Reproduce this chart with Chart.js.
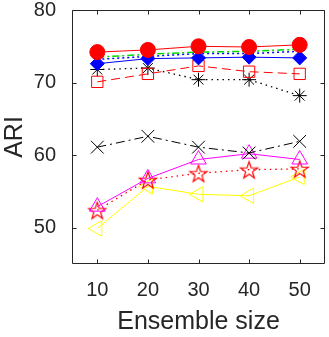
<!DOCTYPE html>
<html>
<head>
<meta charset="utf-8">
<script src="https://cdn.jsdelivr.net/npm/chart.js@4"></script>
<style>
  html, body { margin: 0; padding: 0; background: #fff; }
</style>
</head>
<body>
<canvas id="chart" width="329" height="337"></canvas>
<script>
// ensemble sizes on the x axis
const ensembleSizes = [10, 20, 30, 40, 50];
const xTicks = [10, 20, 30, 40, 50];
const yTicks = [50, 60, 70, 80];

// ARI values, one array per curve
const redCircles = [74.2, 74.5, 75.0, 74.9, 75.2];
const greenDashDot = [73.5, 73.9, 74.2, 74.3, 74.6];
const blueDotted = [73.2, 73.6, 74.0, 74.0, 74.3];
const blueDiamonds = [72.6, 73.3, 73.4, 73.5, 73.4];
const redSquares = [70.1, 71.2, 72.3, 71.5, 71.2];
const blackAsterisks = [71.8, 72.0, 70.4, 70.4, 68.2];
const blackCrosses = [61.1, 62.6, 61.1, 60.3, 61.9];
const magentaTriangles = [52.9, 56.8, 59.4, 60.2, 59.4];
const redPentagrams = [52.4, 56.6, 57.5, 58.0, 58.1];
const yellowTriangles = [49.9, 55.7, 54.6, 54.4, 57.0];

const INK = '#262626';
const FONT = '"Liberation Sans", Arial, Helvetica, sans-serif';

// hollow 5 point star, like the matlab 'p' marker
function pentagram(color, r) {
  const c = document.createElement('canvas');
  const s = Math.ceil(r * 2 + 4);
  c.width = s; c.height = s;
  const g = c.getContext('2d');
  g.strokeStyle = color;
  g.lineWidth = 1.2;
  g.beginPath();
  for (let i = 0; i < 10; i++) {
    const rad = i % 2 === 0 ? r : r * 0.4;
    const a = -Math.PI / 2 + i * Math.PI / 5;
    const px = s / 2 + rad * Math.cos(a);
    const py = s / 2 + 1 + rad * Math.sin(a);
    if (i === 0) g.moveTo(px, py); else g.lineTo(px, py);
  }
  g.closePath();
  g.stroke();
  return c;
}

const pts = vals => vals.map((v, i) => ({ x: ensembleSizes[i], y: v }));

function series(label, vals, color, opts) {
  return Object.assign({
    label: label,
    data: pts(vals),
    borderColor: color,
    backgroundColor: 'rgba(0,0,0,0)',
    pointBorderColor: color,
    pointBackgroundColor: 'rgba(0,0,0,0)',
    borderWidth: 1,
    pointBorderWidth: 1,
    pointRadius: 7,
    tension: 0,
    fill: false
  }, opts);
}

// box with inward ticks on all four sides
const frame = {
  id: 'frame',
  afterDatasetsDraw(chart) {
    const { ctx, chartArea: a, scales } = chart;
    const L = Math.round(a.left) + 0.5, R = Math.round(a.right) - 0.5;
    const T = Math.round(a.top) + 0.5, B = Math.round(a.bottom) - 0.5;
    ctx.save();
    ctx.strokeStyle = INK;
    ctx.lineWidth = 1;
    ctx.beginPath();
    ctx.rect(L, T, R - L, B - T);
    xTicks.forEach(v => {
      const x = Math.round(scales.x.getPixelForValue(v)) + 0.5;
      ctx.moveTo(x, B); ctx.lineTo(x, B - 4);
      ctx.moveTo(x, T); ctx.lineTo(x, T + 4);
    });
    yTicks.forEach(v => {
      const y = Math.round(scales.y.getPixelForValue(v)) + 0.5;
      ctx.moveTo(L, y); ctx.lineTo(L + 4, y);
      ctx.moveTo(R, y); ctx.lineTo(R - 4, y);
    });
    ctx.stroke();
    ctx.restore();
  }
};

new Chart(document.getElementById('chart'), {
  type: 'line',
  data: {
    datasets: [
      series('A', redCircles, '#ff0000', { pointStyle: 'circle', pointBackgroundColor: '#ff0000', pointRadius: 7.5 }),
      series('B', blueDiamonds, '#0000ff', { pointStyle: 'rectRot', pointBackgroundColor: '#0000ff', pointRadius: 7 }),
      series('C', greenDashDot, '#00dd00', { borderDash: [7, 3, 2, 3], pointRadius: 0, borderWidth: 1.5 }),
      series('D', blueDotted, '#0000ff', { borderDash: [2, 3], pointRadius: 0, borderWidth: 1.5 }),
      series('E', redSquares, '#ff0000', { pointStyle: 'rect', pointRadius: 8, borderDash: [9, 5] }),
      series('F', blackAsterisks, '#000000', { pointStyle: 'star', pointRadius: 7, borderDash: [1.5, 4], borderWidth: 1.3 }),
      series('G', blackCrosses, '#000000', { pointStyle: 'crossRot', pointRadius: 9, borderDash: [9, 4, 2, 4] }),
      series('H', magentaTriangles, '#ff00ff', { pointStyle: 'triangle', pointRadius: 9 }),
      series('I', redPentagrams, '#ff0000', { pointStyle: pentagram('#ff0000', 9), borderDash: [1.5, 4], borderWidth: 1.3 }),
      series('J', yellowTriangles, '#ffff00', { pointStyle: 'triangle', rotation: -90, pointRotation: -90, pointRadius: 9 })
    ]
  },
  options: {
    responsive: false,
    animation: false,
    events: [],
    layout: { autoPadding: false, padding: { top: 10, right: 4, left: 0, bottom: 0 } },
    plugins: { legend: { display: false }, tooltip: { enabled: false } },
    scales: {
      x: {
        type: 'linear',
        min: 5,
        max: 55,
        grid: { display: false },
        border: { display: false },
        ticks: { color: INK, font: { family: FONT, size: 20 }, padding: 6, maxRotation: 0 },
        title: { display: true, text: 'Ensemble size', color: INK, font: { family: FONT, size: 25 }, padding: { top: 0, bottom: 0 } },
        afterBuildTicks: s => { s.ticks = xTicks.map(v => ({ value: v })); },
        afterFit: s => { s.height = 73; s.paddingLeft = 0; s.paddingRight = 0; }
      },
      y: {
        min: 45,
        max: 80,
        grid: { display: false },
        border: { display: false },
        ticks: { color: INK, font: { family: FONT, size: 20 }, padding: 8 },
        title: { display: true, text: 'ARI', color: INK, font: { family: FONT, size: 25 }, padding: { top: 0, bottom: 0 } },
        afterBuildTicks: s => { s.ticks = yTicks.map(v => ({ value: v })); },
        afterFit: s => { s.width = 72; s.paddingTop = 0; s.paddingBottom = 0; }
      }
    }
  },
  plugins: [frame]
});
</script>
</body>
</html>
